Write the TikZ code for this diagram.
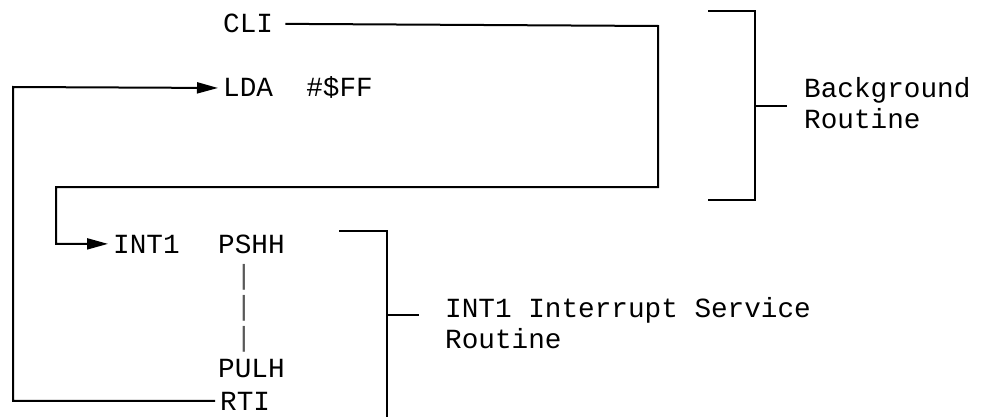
\documentclass[tikz,border=0pt]{standalone}
\usepackage{fontspec}
\setmonofont{Liberation Mono}
\usepackage{tikz}
\usetikzlibrary{arrows.meta,positioning,calc}
\tikzset{instr/.style={
  % The text:
  font=\ttfamily\fontsize{27.7}{31.4}\selectfont,
  % The spacing:
  inner sep=5pt,
  anchor=base west,
  }
}
\tikzset{remark/.style={
  font=\ttfamily\fontsize{27.7}{31.4}\selectfont,
  align=left,inner sep=0pt,anchor=west,
  }
}
\tikzset{flow/.style={line width=2pt,line cap=rect}}
\tikzset{span line/.style={line width=2pt}}

\begin{document}
\begin{tikzpicture}[x=1pt,y=-1pt,
    goes to/.style={-{Triangle[length=21pt,width=11pt]},line width=2pt}]
  \useasboundingbox (0,0) rectangle (993,417);
  % Background routine:
  \node (cli) [instr] at (218,33) {CLI};
  \node (lda) [instr] at (218,97) {LDA\ \ \#\$FF};
  % Interrupt service routine:
  \node (int1) [instr] at (108,253) {INT1};
  \node (pshh) [instr] at (213,253) {PSHH};
  \foreach \y [count=\i] in {284,315,346}
    \node (bar\i) [instr,anchor=base,text=black!65] at (244,\y) {|};
  \node (pulh) [instr] at (213,377) {PULH};
  \node (rti)  [instr] at (215,410) {RTI};

  % Turning points of the flow:
  \coordinate (jump top) at (658,26);
  \coordinate (jump bot) at (658,187);
  \coordinate (back)     at (13,400);

  \draw[flow] ([xshift=8pt]cli.east) -- (jump top) -- (jump bot) -- (56,187)
    |- (int1.west) [goes to];
  \draw[goes to] (rti.west) -| (13,87) -- (lda.west);

  % Brackets with their notes:
  \coordinate (bg top) at (708,11);
  \coordinate (bg bot) at (708,200);
  \draw[span line] (bg top) -- (755,11) -- (755,200) -- (bg bot);
  \draw[span line] (755,106) -- (787,106);
  \node (bg note) [remark] at (804,103) {Background\\Routine};

  \coordinate (isr top) at (339,231);
  \draw[span line] (isr top) -- (387,231) -- (387,420);
  \draw[span line] (387,315) -- (419,315);
  \node (isr note) [remark] at (445,323) {INT1 Interrupt Service\\Routine};
\end{tikzpicture}
\end{document}
